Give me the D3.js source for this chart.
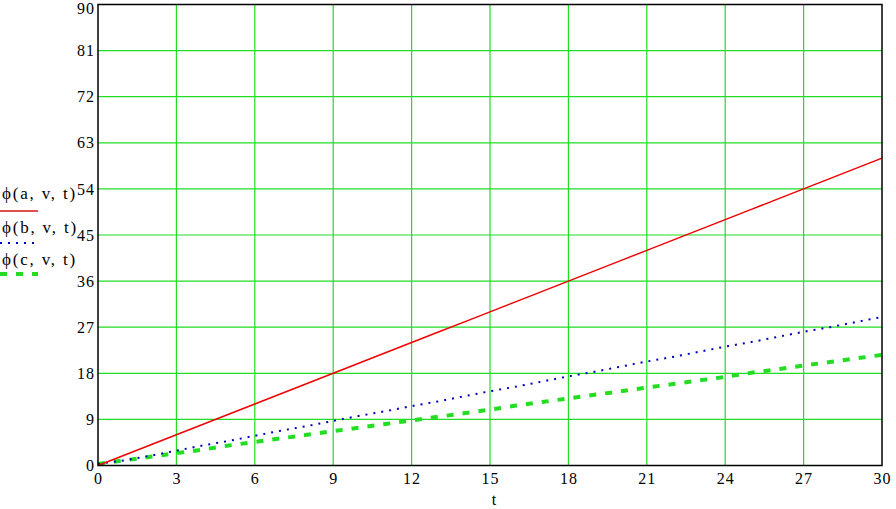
<!DOCTYPE html>
<html><head><meta charset="utf-8">
<script src="https://cdn.jsdelivr.net/npm/d3@7"></script>
<style>body{margin:0;background:#fff}svg{display:block}</style>
</head><body><svg id="c" width="896" height="509"></svg>
<script>
const tValues = d3.range(0, 31);
const seriesA = [0,2,4,6,8,10,12,14,16,18,20,22,24,26,28,30,32,34,36,38,40,42,44,46,48,50,52,54,56,58,60];
const seriesB = [0.3,1.0,1.9,2.9,3.9,4.8,5.8,6.8,7.7,8.7,9.7,10.6,11.6,12.5,13.5,14.5,15.4,16.4,17.4,18.3,19.3,20.3,21.2,22.2,23.2,24.1,25.1,26.1,27.0,28.0,29.0];
const seriesC = [0.3,1.0,1.7,2.4,3.1,3.9,4.6,5.3,6.0,6.7,7.4,8.1,8.8,9.5,10.2,10.9,11.7,12.4,13.1,13.8,14.5,15.2,15.9,16.6,17.3,18.1,18.8,19.5,20.2,20.9,21.6];
const xTicks = [0,3,6,9,12,15,18,21,24,27,30];
const yTicks = [0,9,18,27,36,45,54,63,72,81,90];
const legendLabels = ["ϕ(a, v, t)","ϕ(b, v, t)","ϕ(c, v, t)"];
const xLabel = "t";

const svg = d3.select("#c");
const L=98, R=882, T=4.5, B=465.5;
const x = d3.scaleLinear().domain([0,30]).range([L,R]);
const y = d3.scaleLinear().domain([0,90]).range([B,T]);
const grid = "#22dd22";
const FF = '"Liberation Serif"';

svg.append("g").selectAll("line").data(xTicks.slice(1,-1)).join("line")
  .attr("x1",d=>x(d)).attr("x2",d=>x(d)).attr("y1",T).attr("y2",B)
  .attr("stroke",grid).attr("stroke-width",1.2);
svg.append("g").selectAll("line").data(yTicks.slice(1,-1)).join("line")
  .attr("y1",d=>y(d)).attr("y2",d=>y(d)).attr("x1",L).attr("x2",R)
  .attr("stroke",grid).attr("stroke-width",1.2);

const xAxis = d3.axisBottom(x).tickValues(xTicks).tickSize(0).tickPadding(7).tickFormat(d3.format("d"));
const yAxis = d3.axisLeft(y).tickValues(yTicks).tickSize(0).tickPadding(3).tickFormat(d3.format("d"));
const gx = svg.append("g").attr("transform",`translate(0,${B})`).call(xAxis);
const gy = svg.append("g").attr("transform",`translate(${L},0)`).call(yAxis);
gx.select(".domain").remove();
gy.select(".domain").remove();
gx.selectAll("text").style("font-family",FF).style("font-size","16px").attr("letter-spacing",1).attr("fill","#000");
gy.selectAll("text").style("font-family",FF).style("font-size","16px").attr("letter-spacing",1).attr("fill","#000");
gy.selectAll(".tick text").filter(d=>d===90).attr("dy","0.55em");

const line = d => d3.line().x((v,i)=>x(tValues[i])).y(v=>y(v))(d);
svg.append("path").attr("d",line(seriesC)).attr("fill","none").attr("stroke","#22dd22").attr("stroke-width",4).attr("stroke-dasharray","7,9");
svg.append("path").attr("d",line(seriesB)).attr("fill","none").attr("stroke","#0000bb").attr("stroke-width",2).attr("stroke-dasharray","2,6");
svg.append("path").attr("d",line(seriesA)).attr("fill","none").attr("stroke","#ee0000").attr("stroke-width",1.5);

svg.append("rect").attr("x",L).attr("y",T).attr("width",R-L).attr("height",B-T)
  .attr("fill","none").attr("stroke","#000").attr("stroke-width",1.5);

svg.append("text").attr("x",494).attr("y",505).attr("text-anchor","middle").style("font-family",FF).style("font-size","16px").text(xLabel);

const legStyles = [
  {c:"#e05050",w:2,da:null,ty:199,ly:211},
  {c:"#0000bb",w:2,da:"2,6",ty:233,ly:243},
  {c:"#22dd22",w:4,da:"7,9",ty:265,ly:274}
];
legendLabels.forEach((lab,i)=>{
  const s=legStyles[i];
  svg.append("text").attr("x",2).attr("y",s.ty).style("font-family",FF).style("font-size","17px").attr("letter-spacing",1.8).text(lab);
  svg.append("line").attr("x1",0).attr("x2",38).attr("y1",s.ly).attr("y2",s.ly)
    .attr("stroke",s.c).attr("stroke-width",s.w).attr("stroke-dasharray",s.da);
});
</script></body></html>
